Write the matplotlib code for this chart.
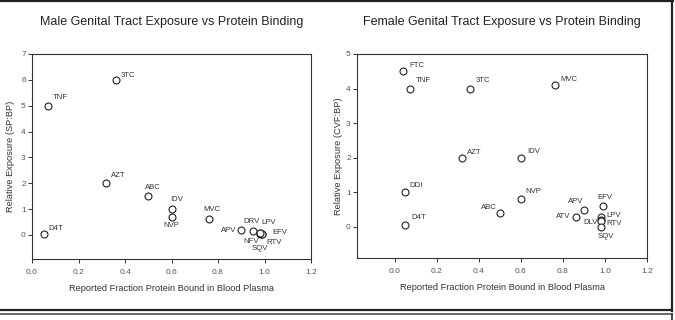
import matplotlib
matplotlib.use("Agg")
import matplotlib.pyplot as plt
from matplotlib.lines import Line2D

plt.rcParams['font.family'] = ['Liberation Sans', 'DejaVu Sans']

# --- dados: trato genital masculino ---
male_drugs = ['D4T', 'TNF', '3TC', 'AZT', 'ABC', 'IDV', 'NVP', 'MVC', 'APV', 'DRV',
              'LPV', 'EFV', 'NFV', 'RTV', 'SQV']
male_bound = [0.05, 0.07, 0.36, 0.32, 0.50, 0.60, 0.60, 0.76, 0.90, 0.95,
              0.98, 0.99, 0.98, 0.99, 0.98]
male_exposure = [0.03, 5.0, 6.0, 2.0, 1.5, 1.0, 0.7, 0.6, 0.2, 0.17,
                 0.08, 0.05, 0.04, 0.03, 0.06]

# --- dados: trato genital feminino ---
female_drugs = ['FTC', 'TNF', '3TC', 'MVC', 'AZT', 'IDV', 'DDI', 'D4T', 'NVP', 'ABC',
                'APV', 'ATV', 'EFV', 'LPV', 'DLV', 'RTV', 'SQV']
female_bound = [0.04, 0.07, 0.36, 0.76, 0.32, 0.60, 0.05, 0.05, 0.60, 0.50,
                0.90, 0.86, 0.99, 0.98, 0.98, 0.98, 0.98]
female_exposure = [4.5, 4.0, 4.0, 4.1, 2.0, 2.0, 1.0, 0.05, 0.8, 0.4,
                   0.5, 0.3, 0.6, 0.3, 0.2, 0.17, 0.0]

x_ticks = [0.0, 0.2, 0.4, 0.6, 0.8, 1.0, 1.2]

# deslocamento dos rótulos (pixels) e alinhamento
male_offsets = {
    'D4T': (5, 6, 'left'), 'TNF': (5, 8, 'left'), '3TC': (5, 4, 'left'),
    'AZT': (5, 8, 'left'), 'ABC': (5, 9, 'center'), 'IDV': (5, 10, 'center'),
    'NVP': (0, -9, 'center'), 'MVC': (3, 10, 'center'), 'APV': (-5, -1, 'right'),
    'DRV': (-1, 9, 'center'), 'LPV': (9, 10, 'center'), 'EFV': (18, 1, 'center'),
    'NFV': (-9, -8, 'center'), 'RTV': (12, -8, 'center'), 'SQV': (0, -15, 'center'),
}
female_offsets = {
    'FTC': (6, 6, 'left'), 'TNF': (6, 8, 'left'), '3TC': (5, 8, 'left'),
    'MVC': (6, 6, 'left'), 'AZT': (5, 5, 'left'), 'IDV': (6, 6, 'left'),
    'DDI': (4, 7, 'left'), 'D4T': (6, 8, 'left'), 'NVP': (4, 8, 'left'),
    'ABC': (-3, 6, 'right'), 'APV': (-8, 8, 'center'), 'ATV': (-5, 0, 'right'),
    'EFV': (2, 9, 'center'), 'LPV': (6, 1, 'left'), 'DLV': (-3, -3, 'right'),
    'RTV': (6, -2, 'left'), 'SQV': (5, -10, 'center'),
}

fig = plt.figure(figsize=(6.75, 3.2), dpi=100)
W, H = 675, 320


def eixo(px_left, px_right, px_top, px_bottom):
    return fig.add_axes([px_left / W, 1 - px_bottom / H,
                         (px_right - px_left) / W, (px_bottom - px_top) / H])


def desenha(ax, xs, ys, nomes, offsets, titulo, ylabel, xlim, ylim, yticks, ypad):
    ax.plot(xs, ys, 'o', mfc='white', mec='#222222', mew=0.8, ms=5, ls='none')
    for x, y, n in zip(xs, ys, nomes):
        dx, dy, ha = offsets[n]
        ax.annotate(n, (x, y), xytext=(dx, dy), textcoords='offset pixels',
                    ha=ha, va='center', fontsize=5.6, color='#333333')
    ax.set_xlim(*xlim)
    ax.set_ylim(*ylim)
    ax.set_xticks(x_ticks)
    ax.set_xticklabels([f"{t:.1f}" for t in x_ticks])
    ax.set_yticks(yticks)
    ax.tick_params(labelsize=6, labelcolor='#555555', length=3, width=0.7,
                   color='#333333', pad=4)
    ax.tick_params(axis='y', pad=1.5)
    for s in ax.spines.values():
        s.set_linewidth(0.8)
        s.set_color('#333333')
    ax.set_xlabel("Reported Fraction Protein Bound in Blood Plasma",
                  fontsize=6.7, color='#333333', labelpad=6)
    ax.set_ylabel(ylabel, fontsize=6.7, color='#333333', labelpad=ypad)
    ax.set_title(titulo, fontsize=9, color='#222222', pad=21)


ax1 = eixo(32, 311, 54, 259)
desenha(ax1, male_bound, male_exposure, male_drugs, male_offsets,
        "Male Genital Tract Exposure vs Protein Binding",
        "Relative Exposure (SP:BP)", (0.0, 1.2), (-0.93, 7), range(0, 8), 4)

ax2 = eixo(357, 647, 54, 258)
desenha(ax2, female_bound, female_exposure, female_drugs, female_offsets,
        "Female Genital Tract Exposure vs Protein Binding",
        "Relative Exposure (CVF:BP)", (-0.18, 1.2), (-0.9, 5), range(0, 6), 2)

# molduras dos painéis
def linha(x0, y0, x1, y1, cor='#222222', lw=1.6):
    fig.add_artist(Line2D([x0 / W, x1 / W], [1 - y0 / H, 1 - y1 / H],
                          color=cor, lw=lw, transform=fig.transFigure))

linha(0, 0.6, 673, 0.6)
linha(672, 0, 672, 310.5)
linha(0, 310, 672, 310)
linha(0, 314, 672, 314, cor='#666666', lw=1.4)
linha(672, 314, 672, 320, cor='#444444', lw=1.4)

fig.savefig("out.png", dpi=100)
